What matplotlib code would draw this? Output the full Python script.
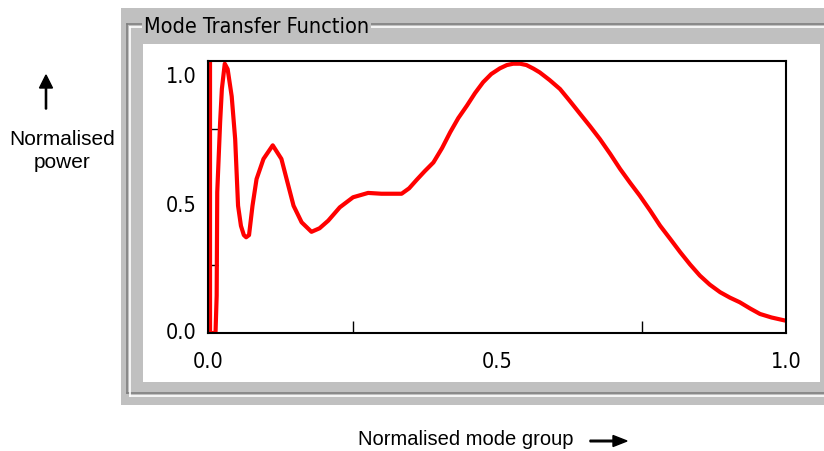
import matplotlib
matplotlib.use('Agg')
import matplotlib.pyplot as plt
from matplotlib.patches import Rectangle, FancyArrow
from matplotlib.transforms import ScaledTranslation

# mode transfer function (normalised mode group vs power)
MODE_GROUP = [0.0035, 0.0035, 0.013, 0.015, 0.016, 0.021, 0.024, 0.029, 0.034, 0.041,
              0.047, 0.050, 0.052, 0.057, 0.062, 0.066, 0.071, 0.077, 0.084, 0.096,
              0.112, 0.127, 0.136, 0.148, 0.162, 0.179, 0.193, 0.208, 0.228, 0.251,
              0.277, 0.300, 0.335, 0.348, 0.361, 0.375, 0.390, 0.405, 0.419, 0.433,
              0.448, 0.462, 0.476, 0.490, 0.505, 0.517, 0.528, 0.540, 0.551, 0.563,
              0.574, 0.591, 0.609, 0.626, 0.644, 0.661, 0.678, 0.696, 0.713, 0.730,
              0.747, 0.765, 0.782, 0.800, 0.817, 0.834, 0.851, 0.868, 0.886, 0.903,
              0.920, 0.938, 0.955, 0.975, 1.0]
POWER = [1.0, 0.0, 0.0, 0.137, 0.518, 0.776, 0.897, 0.99, 0.97, 0.87,
         0.713, 0.566, 0.468, 0.394, 0.36, 0.352, 0.36, 0.468, 0.566, 0.64,
         0.69, 0.64, 0.566, 0.468, 0.407, 0.372, 0.385, 0.413, 0.462, 0.499,
         0.515, 0.512, 0.512, 0.532, 0.563, 0.595, 0.627, 0.68, 0.738, 0.79,
         0.836, 0.882, 0.922, 0.952, 0.973, 0.985, 0.99, 0.99, 0.985, 0.972,
         0.958, 0.93, 0.897, 0.853, 0.805, 0.76, 0.713, 0.658, 0.603, 0.553,
         0.505, 0.45, 0.395, 0.345, 0.297, 0.252, 0.211, 0.178, 0.150, 0.13,
         0.113, 0.09, 0.070, 0.057, 0.045]

X_LABEL_TICKS = [0.0, 0.5, 1.0]
Y_LABEL_TICKS = [0.0, 0.5, 1.0]
MINOR_TICKS = [0.25, 0.5, 0.75]
TICK_TEXT = ['0.0', '0.5', '1.0']
Y_LABEL_SHIFT = [2.2, -4.3, -9.4]   # points, the old widget draws them off-centre

TITLE = 'Mode Transfer Function'
XLABEL = 'Normalised mode group'
YLABEL = ['Normalised', 'power']

W, H = 824, 452
GREY = '#c0c0c0'
NARROW = ['Liberation Sans Narrow', 'DejaVu Sans']
ARIAL = ['Liberation Sans', 'DejaVu Sans']

fig = plt.figure(figsize=(W / 100, H / 100), dpi=100)

# background layer in pixel units: panel, etched group box, labels
bg = fig.add_axes([0, 0, 1, 1])
bg.set_xlim(0, W); bg.set_ylim(H, 0); bg.axis('off')
bg.add_patch(Rectangle((121, 9), W - 121, 397, facecolor=GREY, edgecolor='none'))
for off, col in [(0, '#808080'), (3, 'white')]:
    bg.plot([127.5 + off, 127.5 + off], [25 + off, 394 + off], color=col, lw=1.2)
    bg.plot([127.5 + off, W], [25 + off, 25 + off], color=col, lw=1.2)
    bg.plot([127.5 + off, W], [394 + off, 394 + off], color=col, lw=1.2)
bg.add_patch(Rectangle((143, 45), 677, 338, facecolor='white', edgecolor='none'))
bg.text(144, 27, TITLE, family=NARROW, fontstretch='condensed', fontsize=15.5,
        va='center', ha='left', bbox=dict(facecolor=GREY, edgecolor='none', pad=1.5))

bg.text(62, 140, YLABEL[0], family=ARIAL, fontsize=15, ha='center', va='center')
bg.text(62, 163, YLABEL[1], family=ARIAL, fontsize=15, ha='center', va='center')
bg.add_patch(FancyArrow(46, 110, 0, -34, width=1.2, head_width=13, head_length=13,
                        length_includes_head=True, color='black'))
bg.text(358, 440, XLABEL, family=ARIAL, fontsize=14.5, ha='left', va='center')
bg.add_patch(FancyArrow(590, 442, 37, 0, width=1.6, head_width=11, head_length=14,
                        length_includes_head=True, color='black'))

# the plot itself
ax = fig.add_axes([208 / W, 1 - 334 / H, 578 / W, 272 / H])
ax.plot(MODE_GROUP, POWER, color='red', lw=3.0, solid_joinstyle='round')
ax.set_xlim(0, 1); ax.set_ylim(0, 1)
for s in ax.spines.values():
    s.set_linewidth(1.5)

ax.set_xticks(X_LABEL_TICKS); ax.set_xticklabels(TICK_TEXT)
ax.set_yticks(Y_LABEL_TICKS); ax.set_yticklabels(TICK_TEXT)
ax.set_xticks(MINOR_TICKS, minor=True); ax.set_yticks(MINOR_TICKS, minor=True)
ax.tick_params(which='major', length=0, labelsize=15.5)
ax.tick_params(axis='x', which='major', pad=13)
ax.tick_params(axis='y', which='major', pad=8)
ax.tick_params(which='minor', direction='in', width=1.0, color='black')
ax.tick_params(axis='x', which='minor', length=8.6)
ax.tick_params(axis='y', which='minor', length=7.2)
for lab in ax.get_xticklabels() + ax.get_yticklabels():
    lab.set_family(NARROW)
    lab.set_fontstretch('condensed')
for lab, dy in zip(ax.get_yticklabels(), Y_LABEL_SHIFT):
    lab.set_transform(lab.get_transform() + ScaledTranslation(0, dy / 72, fig.dpi_scale_trans))

fig.savefig('out.png', dpi=100)
